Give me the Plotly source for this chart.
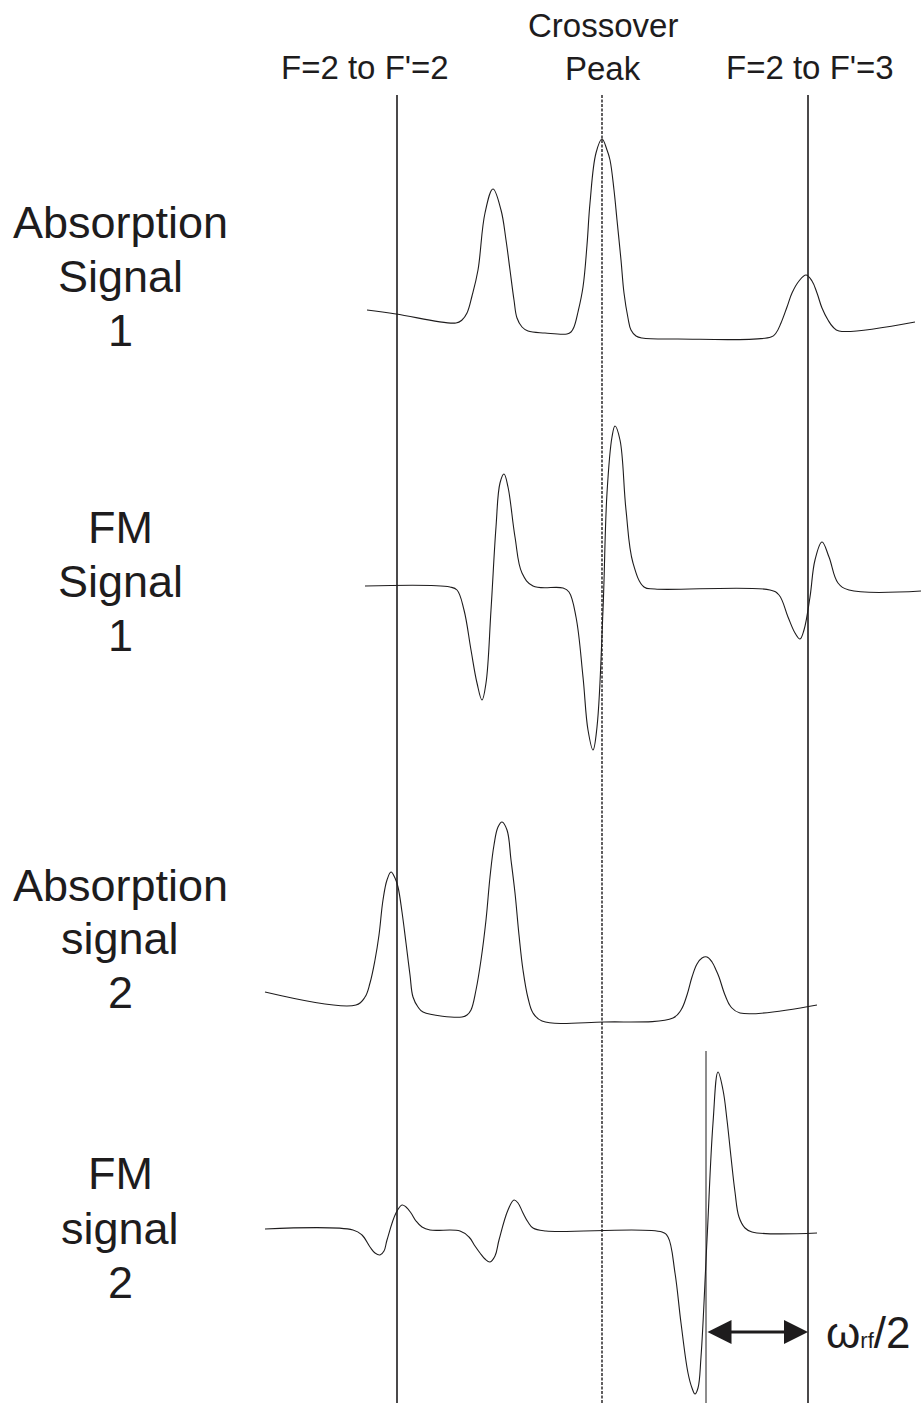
import plotly.graph_objects as go

# ---- data (pixel-like units) ----
abs1_x = [367, 396, 456, 462, 467, 472, 478, 485, 493, 501, 506, 510, 514, 517, 522, 528, 545, 567,
          571, 574, 578, 583, 587, 590, 596, 602, 607, 610, 614, 617, 621, 624, 628, 631, 636, 642, 678,
          771, 776, 781, 787, 792, 799, 806, 812, 817, 822, 828, 833, 839, 915]
abs1_y = [310, 314, 323, 320, 313, 296, 270, 213, 189, 210, 240, 270, 300, 318, 327, 331, 333, 334,
          332, 327, 312, 287, 245, 203, 153, 139, 150, 160, 190, 220, 260, 293, 318, 330, 336, 338, 339,
          337, 333, 323, 307, 293, 281, 275, 281, 293, 308, 320, 327, 331, 322]

fm1_x = [365, 450, 457, 464, 471, 477, 482, 486, 491, 496, 500, 504, 508, 515, 522, 533, 563,
         569, 576, 583, 588, 593, 597, 603, 607, 612, 615, 620, 626, 633, 644, 655,
         770, 779, 788, 795, 800, 804, 810, 815, 822, 829, 838, 849, 921]
fm1_y = [586, 587, 590, 610, 650, 683, 700, 683, 610, 527, 483, 474, 487, 537, 573, 586, 588,
         592, 617, 677, 730, 750, 727, 610, 493, 437, 426, 440, 510, 563, 587, 589,
         590, 595, 617, 633, 639, 630, 597, 560, 542, 557, 583, 590, 591]

abs2_x = [265, 356, 365, 370, 375, 379, 383, 387, 391, 395, 398, 402, 406, 410, 413, 418, 423, 462,
          467, 471, 476, 481, 486, 490, 494, 498, 502, 507, 511, 515, 519, 523, 528, 533, 542, 604,
          673, 681, 687, 692, 697, 702, 707, 712, 716, 719, 725, 731, 740, 817]
abs2_y = [992, 1005, 997, 983, 960, 935, 900, 880, 872, 878, 887, 912, 943, 975, 997, 1007, 1012, 1017,
          1015, 1010, 990, 960, 920, 877, 845, 827, 822, 830, 860, 893, 935, 970, 998, 1013, 1021, 1022,
          1018, 1010, 995, 977, 964, 958, 957, 962, 970, 977, 995, 1007, 1013, 1005]

fm2_x = [265, 353, 362, 370, 375, 380, 384, 387, 396, 402, 406, 411, 416, 422, 430, 460,
         469, 475, 480, 485, 490, 495, 499, 508, 514, 518, 523, 528, 533, 546,
         662, 668, 675, 681, 688, 692, 695, 698, 701, 707, 713, 718, 723, 727, 731, 735, 739, 745, 752, 817]
fm2_y = [1229, 1230, 1235, 1247, 1253, 1255, 1251, 1240, 1213, 1205, 1207, 1213, 1221, 1227, 1230, 1231,
         1237, 1246, 1253, 1259, 1262, 1256, 1240, 1210, 1200, 1203, 1213, 1222, 1228, 1231,
         1232, 1237, 1273, 1323, 1373, 1388, 1394, 1388, 1357, 1240, 1123, 1072, 1090, 1120, 1157, 1192, 1217, 1228, 1232, 1233]

line_solid_x = [397, 808]
line_dotted_x = [602]
line_top = 95
line_bottom = 1403
marker_line_x = 706
marker_line_top = 1051
arrow_y = 1332

row_label_lines = ["Absorption", "Signal", "1",
                   "FM", "Signal", "1",
                   "Absorption", "signal", "2",
                   "FM", "signal", "2"]
row_label_y = [222, 276, 330,
               527, 581, 635,
               885, 938, 992,
               1173, 1228, 1282]
top_labels = ["F=2 to F'=2", "Crossover", "Peak", "F=2 to F'=3"]
top_label_x = [365, 603, 603, 810]
top_label_y = [67, 25, 68, 67]

INK = "#1e1c1d"
FONT = "Liberation Sans, Arial, sans-serif"

fig = go.Figure()

# vertical reference lines
for x in line_solid_x:
    fig.add_trace(go.Scatter(x=[x, x], y=[line_top, line_bottom], mode="lines",
                             line=dict(color=INK, width=1.6), hoverinfo="skip"))
for x in line_dotted_x:
    fig.add_trace(go.Scatter(x=[x, x], y=[line_top, line_bottom], mode="lines",
                             line=dict(color=INK, width=1.4, dash="3px,1.5px"), hoverinfo="skip"))
fig.add_trace(go.Scatter(x=[marker_line_x, marker_line_x], y=[marker_line_top, line_bottom], mode="lines",
                         line=dict(color=INK, width=1.0), hoverinfo="skip"))

# signal traces
for xs, ys in [(abs1_x, abs1_y), (fm1_x, fm1_y), (abs2_x, abs2_y), (fm2_x, fm2_y)]:
    fig.add_trace(go.Scatter(x=xs, y=ys, mode="lines",
                             line=dict(color=INK, width=1.1, shape="spline", smoothing=1.1),
                             hoverinfo="skip"))

annotations = []
for txt, y in zip(row_label_lines, row_label_y):
    annotations.append(dict(x=120, y=y, xref="x", yref="y", text=txt, showarrow=False,
                            font=dict(family=FONT, size=45, color=INK),
                            xanchor="center", yanchor="middle"))
for txt, x, y in zip(top_labels, top_label_x, top_label_y):
    annotations.append(dict(x=x, y=y, xref="x", yref="y", text=txt, showarrow=False,
                            font=dict(family=FONT, size=33, color=INK),
                            xanchor="center", yanchor="middle"))
# double-headed arrow
annotations.append(dict(x=line_solid_x[1], y=arrow_y, ax=marker_line_x, ay=arrow_y,
                        xref="x", yref="y", axref="x", ayref="y", text="", showarrow=True,
                        arrowhead=2, startarrowhead=2, arrowside="end+start",
                        arrowwidth=3, arrowsize=1.6, startarrowsize=1.6,
                        arrowcolor=INK, standoff=0, startstandoff=0))
annotations.append(dict(x=868, y=arrow_y, xref="x", yref="y",
                        text="ω<span style='font-size:22px'>rf</span>/2", showarrow=False,
                        font=dict(family=FONT, size=44, color=INK), xanchor="center", yanchor="middle"))

fig.update_layout(
    width=922, height=1403,
    margin=dict(l=0, r=0, t=0, b=0),
    paper_bgcolor="white", plot_bgcolor="white",
    showlegend=False,
    xaxis=dict(range=[0, 922], visible=False, fixedrange=True),
    yaxis=dict(range=[1403, 0], visible=False, fixedrange=True),
    annotations=annotations,
)

fig.write_html("out.html")
